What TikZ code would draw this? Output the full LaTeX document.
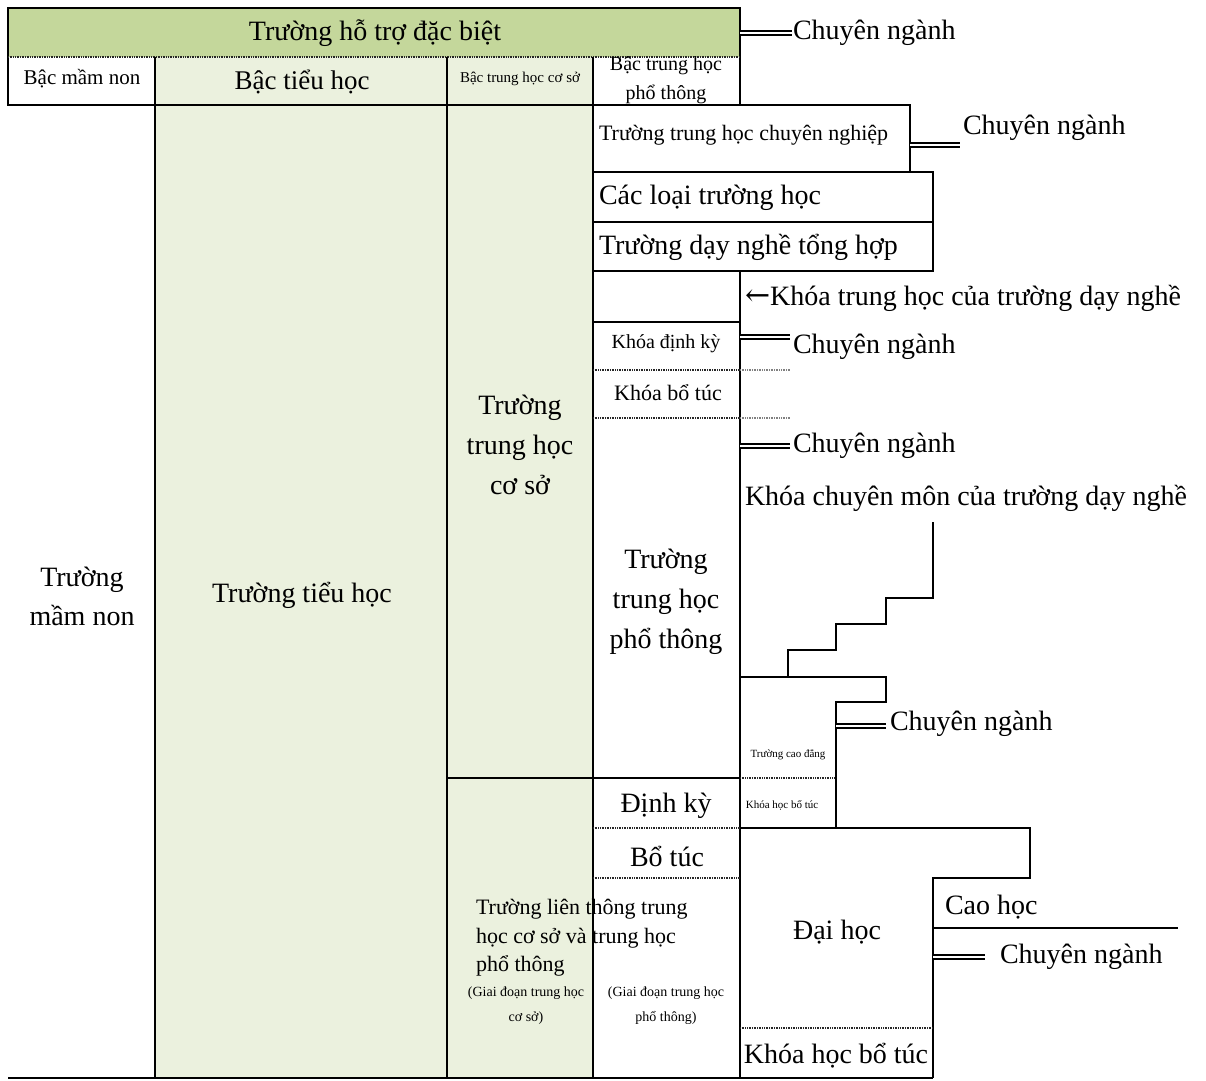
\documentclass[tikz,border=0pt]{standalone}
\usepackage{fontspec}
\setmainfont{Liberation Serif}
\newfontfamily\arrowfont{DejaVu Serif}
\definecolor{topgreen}{HTML}{C4D79B}
\definecolor{lightgreen}{HTML}{EBF1DE}
\newcommand{\fsz}[2]{\fontsize{#1}{#2}\selectfont}
\begin{document}
\begin{tikzpicture}[x=1pt,y=-1pt,
  every path/.style={line width=2.8pt, line join=miter},
  tx/.style={inner sep=0pt, outer sep=0pt, text=black, font=\fsz{28}{40}},
  lt/.style={tx, anchor=west},
  dotl/.style={line width=2.8pt, draw=black!85, dash pattern=on 1pt off 0.7pt},
  dotlight/.style={line width=2.8pt, draw=black!50, dash pattern=on 1pt off 0.7pt},
  dbl/.style={double, double distance=2.6pt, line width=1.5pt}]
\useasboundingbox (0,0) rectangle (1206,1080);
% fills
\fill[topgreen] (8,8) rectangle (740,57);
\fill[lightgreen] (155,57) rectangle (593,1078);
% header lines
\draw (8,57) -- (8,8) -- (740,8) -- (740,105);
\draw (8,57) -- (8,105) -- (910,105) -- (910,172);
\draw[dotl] (8,57) -- (740,57);
\draw (155,57) -- (155,1078);
\draw (447,57) -- (447,1078);
\draw (593,57) -- (593,1078);
% THPT column boxes
\draw (593,172) -- (933,172) -- (933,271) -- (593,271);
\draw (593,222) -- (933,222);
\draw (740,271) -- (740,1078);
\draw (593,322) -- (740,322);
\draw[dotl] (593,370) -- (740,370);
\draw[dotlight] (740,370) -- (790,370);
\draw[dotl] (593,418) -- (740,418);
\draw[dotlight] (740,418) -- (790,418);
\draw (447,778) -- (740,778);
\draw[dotl] (740,778) -- (836,778);
% staircase
\draw (933,522) -- (933,598) -- (886,598) -- (886,624) -- (836,624) -- (836,650) -- (788,650) -- (788,677);
\draw (740,677) -- (886,677) -- (886,702) -- (836,702) -- (836,828);
\draw (740,828) -- (1030,828) -- (1030,878) -- (933,878) -- (933,1078);
\draw[dotl] (593,828) -- (740,828);
\draw[dotl] (593,878) -- (740,878);
\draw[dotl] (740,1028) -- (933,1028);
\draw (933,928) -- (1178,928);
\draw (8,1078) -- (933,1078);
% Chuyen nganh double lines
\draw[dbl] (740,33) -- (792,33);
\draw[dbl] (910,145) -- (960,145);
\draw[dbl] (740,337) -- (790,337);
\draw[dbl] (740,446) -- (790,446);
\draw[dbl] (836,726) -- (886,726);
\draw[dbl] (933,957) -- (985,957);
% texts
\node[tx] (special) at (375,33) {Trường hỗ trợ đặc biệt};
\node[lt] (cn1) at (793,33) {Chuyên ngành};
\node[tx, font=\fsz{21}{25}] (bmn) at (82,79) {Bậc mầm non};
\node[tx, font=\fsz{27}{30}] (bth) at (302,82) {Bậc tiểu học};
\node[tx, font=\fsz{15}{18}] (bthcs) at (520,79) {Bậc trung học cơ sở};
\node[tx, font=\fsz{20}{29}, align=center] (bthpt) at (666,80) {Bậc trung học\\phổ thông};
\node[lt, font=\fsz{22}{26}] (tthcn) at (599,135) {Trường trung học chuyên nghiệp};
\node[lt] (cn2) at (963,128) {Chuyên ngành};
\node[lt] (clth) at (599,198) {Các loại trường học};
\node[lt] (tdnth) at (599,247) {Trường dạy nghề tổng hợp};
\node[lt] (kthdn) at (745,298) {{\arrowfont\fsz{30}{34}←}Khóa trung học của trường dạy nghề};
\node[tx, font=\fsz{20}{24}] (kdk) at (666,344) {Khóa định kỳ};
\node[lt] (cn3) at (793,347) {Chuyên ngành};
\node[tx, font=\fsz{22}{26}] (kbt) at (668,393) {Khóa bổ túc};
\node[lt] (cn4) at (793,446) {Chuyên ngành};
\node[lt] (kcmdn) at (745,498) {Khóa chuyên môn của trường dạy nghề};
\node[tx, align=center] (tthcs) at (520,445) {Trường\\trung học\\cơ sở};
\node[tx, align=center] (tthpt) at (666,602) {Trường\\trung học\\phổ thông};
\node[tx, align=center, font=\fsz{28}{39}] (tmn) at (82,596) {Trường\\mầm non};
\node[tx] (tth) at (302,595) {Trường tiểu học};
\node[tx, font=\fsz{11}{13}] (tcd) at (788,755) {Trường cao đẳng};
\node[lt] (cn5) at (890,724) {Chuyên ngành};
\node[tx, font=\fsz{11}{13}] (khbt1) at (782,805) {Khóa học bổ túc};
\node[tx] (dk) at (666,806) {Định kỳ};
\node[tx] (bt) at (667,856) {Bổ túc};
\node[tx] (dh) at (837,932) {Đại học};
\node[lt] (ch) at (945,907) {Cao học};
\node[lt] (cn6) at (1000,957) {Chuyên ngành};
\node[tx] (khbt2) at (836,1056) {Khóa học bổ túc};
\node[lt, font=\fsz{22}{28.5}, align=left] (tlt) at (476,938) {Trường liên thông trung\\học cơ sở và trung học\\phổ thông};
\node[tx, font=\fsz{14}{25}, align=center] (gd1) at (526,1006) {(Giai đoạn trung học\\cơ sở)};
\node[tx, font=\fsz{14}{25}, align=center] (gd2) at (666,1006) {(Giai đoạn trung học\\phổ thông)};
\end{tikzpicture}
\end{document}
